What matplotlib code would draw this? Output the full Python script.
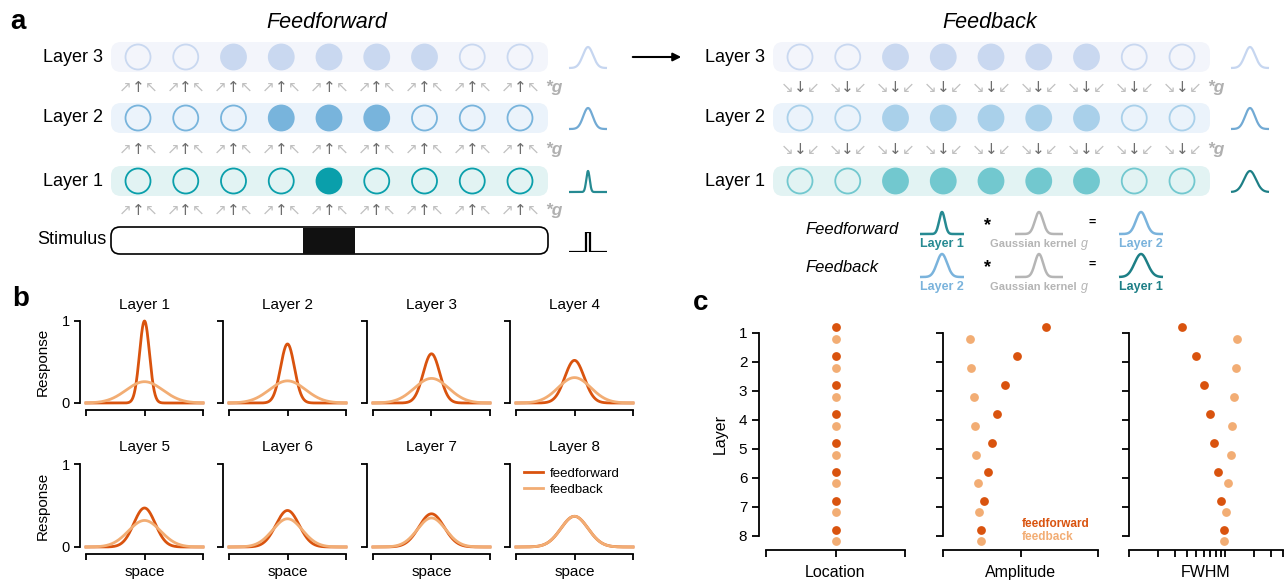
import numpy as np
import matplotlib.pyplot as plt
from matplotlib.patches import FancyBboxPatch, Circle, Rectangle
from matplotlib.ticker import NullLocator

plt.rcParams['font.family'] = ['Liberation Sans', 'DejaVu Sans']

# ---- data ----
layers = np.arange(1, 9)
amp_ff = [1.00, 0.72, 0.60, 0.52, 0.47, 0.44, 0.40, 0.37]
amp_fb = [0.26, 0.27, 0.30, 0.31, 0.32, 0.34, 0.35, 0.37]
fwhm_ff = [3.6, 5.0, 6.0, 7.0, 7.7, 8.4, 9.1, 9.8]
fwhm_fb = [13.3, 13.0, 12.4, 11.8, 11.6, 10.7, 10.2, 9.8]
loc_ff = [0, 0, 0, 0, 0, 0, 0, 0]
loc_fb = [0, 0, 0, 0, 0, 0, 0, 0]

# schematic (panel a): which units are active, per layer (3, 2, 1)
schem_layers = [3, 2, 1]
ff_active = [[0, 0, 1, 1, 1, 1, 1, 0, 0],
             [0, 0, 0, 1, 1, 1, 0, 0, 0],
             [0, 0, 0, 0, 1, 0, 0, 0, 0]]
fb_active = [[0, 0, 1, 1, 1, 1, 1, 0, 0],
             [0, 0, 1, 1, 1, 1, 1, 0, 0],
             [0, 0, 1, 1, 1, 1, 1, 0, 0]]
stimulus = [0, 0, 0, 0, 1, 0, 0, 0, 0]
# widths of the little profile icons (sigma, icon half-width = 1)
ff_icon_sigma = [0.27, 0.25, 0.09]
fb_icon_sigma = [0.27, 0.26, 0.31]

# colours
C_FF = '#d9530e'
C_FB = '#f2ad74'
ff_fill = ['#c9d8f0', '#78b4dc', '#0a9fab']
ff_bg = ['#f3f5fb', '#ebf3fb', '#e2f3f3']
fb_fill = ['#c9d8f0', '#a9d0ea', '#72c8cf']
icon_ff = ['#c6d6f0', '#72aad4', '#268a92']
icon_fb = ['#c6d6f0', '#72aad4', '#1d7f86']

W, H = 1288, 581
fig = plt.figure(figsize=(W / 100, H / 100), dpi=100)

bg = fig.add_axes([0, 0, 1, 1])
bg.set_xlim(0, W)
bg.set_ylim(H, 0)
bg.axis('off')


def px_axes(x0, x1, y0, y1):
    # axes placed by pixel box (y measured from the top)
    return fig.add_axes([x0 / W, 1 - y1 / H, (x1 - x0) / W, (y1 - y0) / H])


def gauss(x, amp, fwhm):
    sig = fwhm / 2.3548
    return amp * np.exp(-x ** 2 / (2 * sig ** 2))


def icon(x0, x1, y0, y1, sigma, color, lw=1.6):
    ax = px_axes(x0, x1, y0, y1)
    t = np.linspace(-1, 1, 200)
    ax.plot(t, np.exp(-t ** 2 / (2 * sigma ** 2)), color=color, lw=lw,
            solid_capstyle='butt', clip_on=False)
    ax.set_xlim(-1, 1)
    ax.set_ylim(0, 1)
    ax.axis('off')
    return ax


# ---- panel a ----
row_y = [57, 118, 181]
arrow_y = [87.5, 149.5, 210.5]
dx = 47.75
R = 12.5

bg.text(10, 22, 'a', fontsize=20, fontweight='bold', va='center')
bg.text(327, 22, 'Feedforward', fontsize=15.5, style='italic', ha='center', va='center')
bg.text(990, 22, 'Feedback', fontsize=15.5, style='italic', ha='center', va='center')


def draw_net(x0, active, fills, up, n_arrow_rows, icon_x, icon_sig, icon_col):
    for r, lay in enumerate(schem_layers):
        y = row_y[r]
        bg.add_patch(FancyBboxPatch((x0 - 27, y - 15), 8 * dx + 55, 30,
                                    boxstyle='round,pad=0,rounding_size=10',
                                    fc=ff_bg[r], ec='none'))
        bg.text(x0 - 35, y, f'Layer {lay}', fontsize=13, ha='right', va='center')
        for i, a in enumerate(active[r]):
            bg.add_patch(Circle((x0 + i * dx, y), R, fc=fills[r] if a else 'none',
                                ec=fills[r], lw=1.3))
        icon(icon_x, icon_x + 38, y - 10, y + 11, icon_sig[r], icon_col[r])
    glyphs = ('↗', '↑', '↖') if up else ('↘', '↓', '↙')
    for k in range(n_arrow_rows):
        y = arrow_y[k]
        for i in range(9):
            x = x0 + i * dx
            bg.text(x - 13, y, glyphs[0], color='#c0c0c0', fontsize=11,
                    ha='center', va='center', family='DejaVu Sans')
            bg.text(x, y, glyphs[1], color='#6e6e6e', fontsize=11,
                    ha='center', va='center', family='DejaVu Sans')
            bg.text(x + 13, y, glyphs[2], color='#c0c0c0', fontsize=11,
                    ha='center', va='center', family='DejaVu Sans')
        bg.text(x0 + 8 * dx + 34, y, '*g', color='#b0b0b0', fontsize=12.5,
                fontweight='bold', style='italic', ha='center', va='center')


draw_net(138, ff_active, ff_fill, True, 3, 569, ff_icon_sigma, icon_ff)
draw_net(800, fb_active, fb_fill, False, 2, 1231, fb_icon_sigma, icon_fb)

# stimulus bar
bg.add_patch(FancyBboxPatch((111, 227), 437, 27,
                            boxstyle='round,pad=0,rounding_size=9',
                            fc='white', ec='black', lw=1.2))
for i, s in enumerate(stimulus):
    if s:
        bg.add_patch(Rectangle((138 + i * dx - 0.55 * dx, 227.5), 1.1 * dx, 26,
                               fc='#111111', ec='none'))
bg.text(106, 240, 'Stimulus', fontsize=13, ha='right', va='center')
sax = px_axes(569, 607, 232, 252)
sax.stairs(stimulus, np.arange(len(stimulus) + 1), baseline=None,
           color='black', lw=1.6)
sax.set_xlim(0, len(stimulus))
sax.set_ylim(0, 1)
sax.axis('off')

# arrow between the two networks
bg.annotate('', xy=(684, 57), xytext=(630, 57),
            arrowprops=dict(arrowstyle='-|>', color='black', lw=1.5, mutation_scale=12))

# convolution summary
eq_rows = [(212, 234, 244), (254, 277, 287)]
eq_name_y = [229, 267]
eq_names = ['Feedforward', 'Feedback']
eq_sig = [[0.13, 0.17, 0.23], [0.23, 0.17, 0.29]]
eq_col = [['#268a92', '#b5b5b5', '#7ab3dc'], ['#7ab3dc', '#b5b5b5', '#1d7f86']]
eq_lab = [['Layer 1', 'Gaussian kernel', 'Layer 2'], ['Layer 2', 'Gaussian kernel', 'Layer 1']]
eq_x = [(920, 964), (1015, 1063), (1119, 1163)]
for r in range(2):
    yt, yb, yl = eq_rows[r]
    bg.text(805, eq_name_y[r], eq_names[r], fontsize=12, style='italic',
            ha='left', va='center')
    for j in range(3):
        icon(eq_x[j][0], eq_x[j][1], yt, yb, eq_sig[r][j], eq_col[r][j], lw=1.8)
        cx = (eq_x[j][0] + eq_x[j][1]) / 2
        if j == 1:
            bg.text(1033, yl, eq_lab[r][j], fontsize=8, fontweight='bold',
                    color=eq_col[r][j], ha='center', va='center')
            bg.text(1084, yl, 'g', fontsize=9, style='italic',
                    color=eq_col[r][j], ha='center', va='center')
        else:
            bg.text(cx, yl, eq_lab[r][j], fontsize=9, fontweight='bold',
                    color=eq_col[r][j], ha='center', va='center')
    bg.text(988, yt + 14, '*', fontsize=13, fontweight='bold', ha='center', va='center')
    bg.text(1092, yt + 11, '=', fontsize=9, fontweight='bold', ha='center', va='center')

# ---- panel b ----
bg.text(12, 299, 'b', fontsize=20, fontweight='bold', va='center')
col_x = [86, 229, 373, 516]
row_b = [(321, 403), (464, 547)]
xs = np.linspace(-18, 18, 500)
for k in range(8):
    r, c = divmod(k, 4)
    ax = px_axes(col_x[c], col_x[c] + 117, row_b[r][0], row_b[r][1])
    ax.plot(xs, gauss(xs, amp_ff[k], fwhm_ff[k]), color=C_FF, lw=2.0,
            label='feedforward', clip_on=False)
    ax.plot(xs, gauss(xs, amp_fb[k], fwhm_fb[k]), color=C_FB, lw=2.0,
            label='feedback', clip_on=False)
    ax.set_xlim(-18, 18)
    ax.set_ylim(0, 1)
    for side in ('top', 'right'):
        ax.spines[side].set_visible(False)
    ax.spines['left'].set_position(('outward', 4.5))
    ax.spines['bottom'].set_position(('outward', 5))
    ax.spines['left'].set_linewidth(1.3)
    ax.spines['bottom'].set_linewidth(1.3)
    ax.set_xticks([-18, 0, 18])
    ax.set_xticklabels([])
    ax.set_yticks([0, 1])
    ax.tick_params(length=4, width=1.3, labelsize=10.5, pad=3)
    ax.set_title(f'Layer {k + 1}', fontsize=11, pad=9)
    if c == 0:
        ax.set_yticklabels(['0', '1'])
        ax.set_ylabel('Response', fontsize=11, labelpad=9)
    else:
        ax.set_yticklabels([])
    if r == 1:
        ax.set_xlabel('space', fontsize=11, labelpad=1)
    if k == 7:
        ax.legend(loc='upper left', bbox_to_anchor=(0.02, 1.02), frameon=False,
                  fontsize=9.5, handlelength=1.5, handletextpad=0.5,
                  labelspacing=0.3, borderaxespad=0)

# ---- panel c ----
bg.text(693, 303, 'c', fontsize=20, fontweight='bold', va='center')
c_axes = [px_axes(766, 905, 318.5, 550), px_axes(943, 1098, 318.5, 550),
          px_axes(1129, 1283, 318.5, 550)]
c_vals = [(loc_ff, loc_fb), (amp_ff, amp_fb), (fwhm_ff, fwhm_fb)]
c_names = ['Location', 'Amplitude', 'FWHM']
for j, ax in enumerate(c_axes):
    vff, vfb = c_vals[j]
    ax.scatter(vff, layers - 0.2, s=40, color=C_FF, lw=0, zorder=3, clip_on=False)
    ax.scatter(vfb, layers + 0.2, s=40, color=C_FB, lw=0, zorder=3, clip_on=False)
    ax.set_ylim(8.5, 0.5)
    for side in ('top', 'right'):
        ax.spines[side].set_visible(False)
    ax.spines['left'].set_bounds(1, 8)
    ax.spines['left'].set_linewidth(1.3)
    ax.spines['bottom'].set_linewidth(1.3)
    ax.set_yticks(layers)
    ax.tick_params(length=5, width=1.3, labelsize=11)
    ax.set_xlabel(c_names[j], fontsize=11.5, labelpad=2)
    if j == 0:
        ax.set_xlim(-1, 1)
        ax.set_xticks([-1, 0, 1])
        ax.spines['left'].set_position(('outward', 5))
        ax.set_ylabel('Layer', fontsize=11.5, labelpad=8)
    else:
        ax.set_yticklabels([])
    if j == 1:
        ax.set_xlim(0, 1.5)
        ax.set_xticks([0, 0.75, 1.5])
        ax.text(0.51, 0.112, 'feedforward', color=C_FF, fontsize=8.5,
                fontweight='bold', transform=ax.transAxes, va='center')
        ax.text(0.51, 0.056, 'feedback', color=C_FB, fontsize=8.5,
                fontweight='bold', transform=ax.transAxes, va='center')
    if j == 2:
        ax.set_xscale('log')
        ax.set_xlim(1, 40)
        ax.set_xticks([1, 2, 3, 4, 5, 6, 7, 8, 9, 10, 20, 30, 40])
        ax.xaxis.set_minor_locator(NullLocator())
    ax.set_xticklabels([])

fig.savefig('out.png', dpi=100)
